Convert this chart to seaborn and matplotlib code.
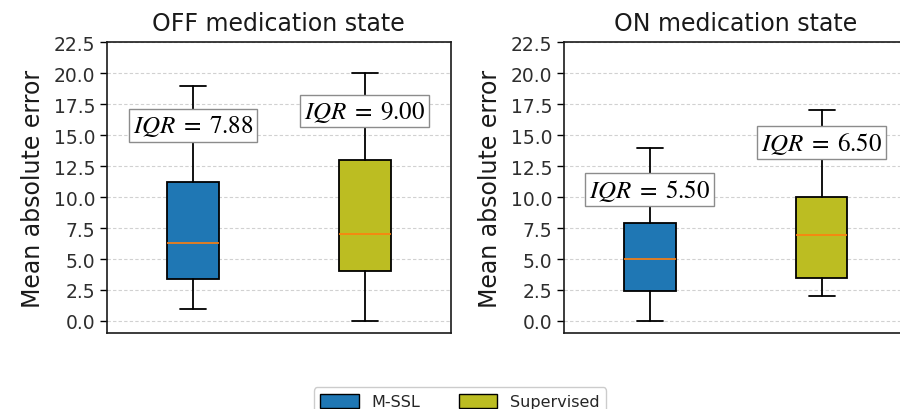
import matplotlib
matplotlib.use("Agg")
import matplotlib.pyplot as plt
import seaborn as sns
from matplotlib.patches import Patch

# ---- data ----
panels = ["OFF medication state", "ON medication state"]
methods = ["M-SSL", "Supervised"]
# per panel: [M-SSL, Supervised]
whis_lo = [[1.0, 0.0], [0.0, 2.0]]
q1_vals = [[3.37, 4.0], [2.4, 3.5]]
medians = [[6.3, 7.0], [5.0, 6.9]]
q3_vals = [[11.25, 13.0], [7.9, 10.0]]
whis_hi = [[19.0, 20.0], [14.0, 17.0]]
iqr_labels = [["7.88", "9.00"], ["5.50", "6.50"]]
label_y = [[15.8, 16.95], [10.6, 14.4]]
yticks = [0.0, 2.5, 5.0, 7.5, 10.0, 12.5, 15.0, 17.5, 20.0, 22.5]

sns.set_theme(style="ticks")
plt.rcParams["mathtext.fontset"] = "stix"
plt.rcParams["font.family"] = ["DejaVu Sans"]

pal = sns.color_palette("tab10")
colors = [pal[0], pal[8]]

fig = plt.figure(figsize=(9, 4.1), dpi=100)
axes = [fig.add_axes([0.119, 0.1846, 0.3817, 0.7098]),
        fig.add_axes([0.6267, 0.1846, 0.3817, 0.7098])]

for p, ax in enumerate(axes):
    stats = []
    for m in range(len(methods)):
        stats.append(dict(med=medians[p][m], q1=q1_vals[p][m], q3=q3_vals[p][m],
                          whislo=whis_lo[p][m], whishi=whis_hi[p][m], fliers=[],
                          label=methods[m]))
    bp = ax.bxp(stats, positions=[1, 2], widths=0.3, patch_artist=True,
                showfliers=False,
                medianprops=dict(color="#ff7f0e", linewidth=1.2),
                whiskerprops=dict(color="black", linewidth=1.3),
                capprops=dict(color="black", linewidth=1.3),
                boxprops=dict(edgecolor="black", linewidth=1.3))
    for patch, c in zip(bp["boxes"], colors):
        patch.set_facecolor(c)
    for m in range(len(methods)):
        ax.text(m + 1, label_y[p][m], r"$IQR\;=\;%s$" % iqr_labels[p][m],
                ha="center", va="center", fontsize=18, zorder=5, color="black",
                bbox=dict(boxstyle="square,pad=0.15", facecolor="white",
                          edgecolor="0.55", linewidth=1.0))
    ax.set_xlim(0.5, 2.5)
    ax.set_ylim(-1, 22.5)
    ax.set_yticks(yticks)
    ax.set_yticklabels([f"{t:.1f}" for t in yticks])
    ax.set_xticks([])
    ax.yaxis.grid(True, linestyle=(0, (3, 2)), color="0.82", linewidth=0.8)
    ax.set_axisbelow(True)
    ax.tick_params(axis="y", labelsize=13.5, length=5, width=1,
                   colors="black", labelcolor="0.18")
    for s in ax.spines.values():
        s.set_color("0.1")
        s.set_linewidth(1.2)
    ax.set_title(panels[p], fontsize=17, color="0.1", pad=9)
    ax.set_ylabel("Mean absolute error", fontsize=17, color="0.1", labelpad=6)

handles = [Patch(facecolor=colors[i], edgecolor="black", label=methods[i])
           for i in range(len(methods))]
fig.legend(handles=handles, loc="upper center", bbox_to_anchor=(0.511, 0.072),
           ncol=2, fontsize=11.5, frameon=True, columnspacing=2.4,
           handlelength=2.4, handleheight=1.0, fancybox=True,
           edgecolor="0.8", framealpha=1.0)

fig.savefig("out.png", dpi=100)
